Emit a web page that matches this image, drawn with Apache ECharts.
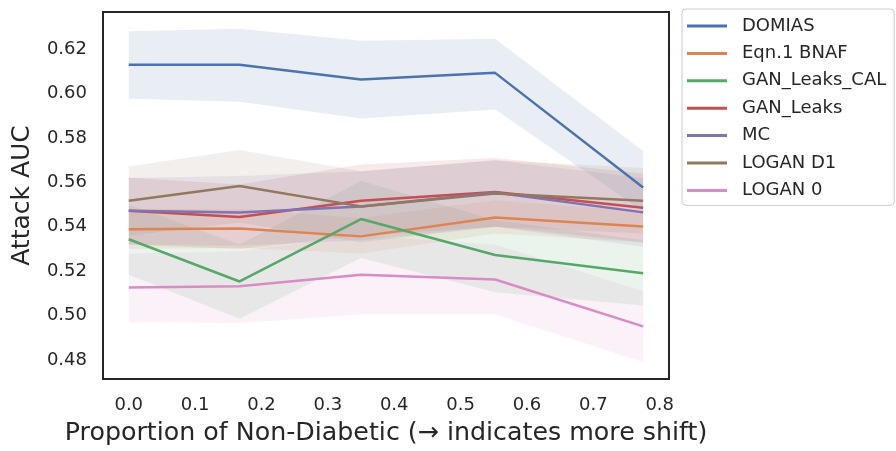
<!DOCTYPE html>
<html>
<head>
<meta charset="utf-8">
<script src="https://cdn.jsdelivr.net/npm/echarts@6/dist/echarts.min.js"></script>
<style>
html,body{margin:0;padding:0;background:#fff;}
#chart{width:896px;height:451px;}
</style>
</head>
<body>
<div id="chart"></div>
<script>
const xValues = [0, 0.167, 0.35, 0.552, 0.775];
const xTicks = [0, 0.1, 0.2, 0.3, 0.4, 0.5, 0.6, 0.7, 0.8];
const yTicks = [0.48, 0.50, 0.52, 0.54, 0.56, 0.58, 0.60, 0.62];
const names = ['DOMIAS', 'Eqn.1 BNAF', 'GAN_Leaks_CAL', 'GAN_Leaks', 'MC', 'LOGAN D1', 'LOGAN 0'];
const colors = ['#4c72b0', '#dd8452', '#55a868', '#c44e52', '#8172b3', '#937860', '#da8bc3'];

const domiasMean  = [0.6130, 0.6130, 0.6063, 0.6093, 0.5577];
const domiasLow   = [0.5976, 0.5963, 0.5888, 0.5928, 0.5470];
const domiasHigh  = [0.6280, 0.6292, 0.6238, 0.6247, 0.5741];

const bnafMean    = [0.5389, 0.5393, 0.5357, 0.5442, 0.5402];
const bnafLow     = [0.5300, 0.5305, 0.5280, 0.5370, 0.5330];
const bnafHigh    = [0.5480, 0.5480, 0.5440, 0.5520, 0.5470];

const calMean     = [0.5344, 0.5154, 0.5435, 0.5273, 0.5191];
const calLow      = [0.5184, 0.4986, 0.5260, 0.5106, 0.5046];
const calHigh     = [0.5500, 0.5320, 0.5607, 0.5430, 0.5340];

const leaksMean   = [0.5472, 0.5444, 0.5517, 0.5557, 0.5486];
const leaksLow    = [0.5320, 0.5300, 0.5360, 0.5400, 0.5330];
const leaksHigh   = [0.5622, 0.5590, 0.5680, 0.5710, 0.5640];

const mcMean      = [0.5472, 0.5465, 0.5492, 0.5555, 0.5465];
const mcLow       = [0.5320, 0.5315, 0.5340, 0.5400, 0.5310];
const mcHigh      = [0.5620, 0.5629, 0.5650, 0.5700, 0.5620];

const d1Mean      = [0.5517, 0.5584, 0.5492, 0.5550, 0.5517];
const d1Low       = [0.5360, 0.5420, 0.5330, 0.5400, 0.5370];
const d1High      = [0.5671, 0.5746, 0.5650, 0.5700, 0.5665];

const l0Mean      = [0.5127, 0.5133, 0.5184, 0.5163, 0.4952];
const l0Low       = [0.4971, 0.4967, 0.5005, 0.5005, 0.4792];
const l0High      = [0.5280, 0.5290, 0.5360, 0.5320, 0.5110];

const means = [domiasMean, bnafMean, calMean, leaksMean, mcMean, d1Mean, l0Mean];
const lows = [domiasLow, bnafLow, calLow, leaksLow, mcLow, d1Low, l0Low];
const highs = [domiasHigh, bnafHigh, calHigh, leaksHigh, mcHigh, d1High, l0High];

const FONT = 'DejaVu Sans';
const TXT = '#262626';

const series = [];
names.forEach((n, i) => {
  series.push({
    name: n + ' band', type: 'custom', silent: true, z: 1,
    data: xValues.map((x, j) => [x, lows[i][j], highs[i][j]]),
    encode: { x: 0, y: [1, 2] },
    renderItem: function (params, api) {
      if (params.dataIndex !== 0) return null;
      const pts = [];
      for (let j = 0; j < xValues.length; j++) pts.push(api.coord([xValues[j], highs[i][j]]));
      for (let j = xValues.length - 1; j >= 0; j--) pts.push(api.coord([xValues[j], lows[i][j]]));
      return {
        type: 'polygon',
        shape: { points: pts },
        style: { fill: colors[i], opacity: 0.12 }
      };
    }
  });
});
names.forEach((n, i) => {
  series.push({
    name: n, type: 'line', symbol: 'none', z: 3,
    color: colors[i],
    lineStyle: { color: colors[i], width: 2.5 },
    data: xValues.map((x, j) => [x, means[i][j]])
  });
});

const chart = echarts.init(document.getElementById('chart'), null, { renderer: 'canvas' });
chart.setOption({
  animation: false,
  backgroundColor: '#fff',
  textStyle: { fontFamily: FONT, color: TXT },
  grid: { left: 103, top: 12, right: 227, bottom: 71, show: true, borderColor: '#262626', borderWidth: 2, backgroundColor: 'transparent' },
  legend: {
    orient: 'vertical', left: 682, top: 9,
    data: names,
    icon: 'rect', itemWidth: 40, itemHeight: 3, itemGap: 7.4,
    padding: [7, 8, 5, 5],
    borderColor: '#cccccc', borderWidth: 1, borderRadius: 4, backgroundColor: '#fff',
    textStyle: { fontFamily: FONT, fontSize: 18, color: TXT, lineHeight: 20, padding: [0, 0, 0, 10] }
  },
  xAxis: {
    type: 'value', min: -0.0388, max: 0.814,
    axisLine: { show: false }, axisTick: { show: false }, splitLine: { show: false },
    axisLabel: { customValues: xTicks, formatter: v => v.toFixed(1), fontSize: 18, color: TXT, fontFamily: FONT, margin: 17 },
    name: 'Proportion of Non-Diabetic (\u2192 indicates more shift)',
    nameLocation: 'middle', nameGap: 42,
    nameTextStyle: { fontSize: 25.3, color: TXT, fontFamily: FONT }
  },
  yAxis: {
    type: 'value', min: 0.4715, max: 0.6367,
    axisLine: { show: false }, axisTick: { show: false }, splitLine: { show: false },
    axisLabel: { customValues: yTicks, formatter: v => v.toFixed(2), fontSize: 18, color: TXT, fontFamily: FONT, margin: 16 },
    name: 'Attack AUC', nameLocation: 'middle', nameGap: 68,
    nameTextStyle: { fontSize: 25, color: TXT, fontFamily: FONT }
  },
  series: series
});
</script>
</body>
</html>
